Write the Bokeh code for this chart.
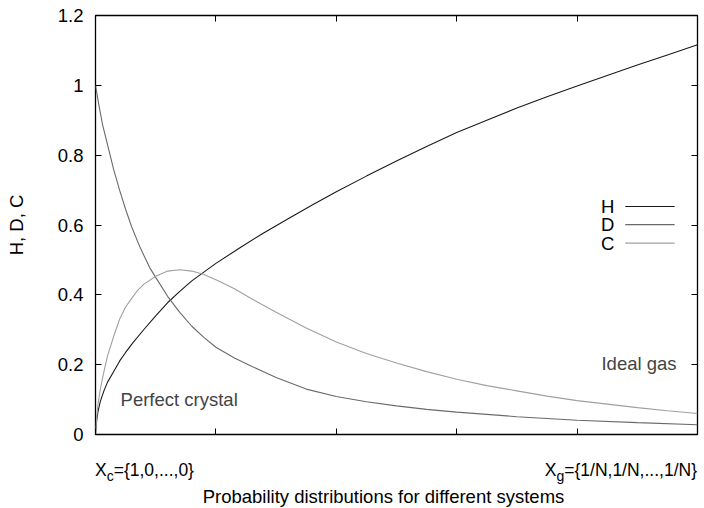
from bokeh.plotting import figure
from bokeh.models import (LinearAxis, FixedTicker, NumeralTickFormatter, Label, Range1d, Div)
from bokeh.layouts import column
from bokeh.embed import file_html
from bokeh.resources import INLINE

# ---------------- data ----------------
h_x = [0, 0.01, 0.02, 0.04, 0.07, 0.1, 0.15, 0.2, 0.25, 0.3, 0.4, 0.5, 0.6, 0.7, 0.8, 0.9,
       1.0, 1.2, 1.4, 1.6, 1.8, 2.0, 2.25, 2.5, 2.75, 3.0, 3.25, 3.5, 3.75, 4.0, 4.25,
       4.5, 4.75, 5.0]
h_y = [0, 0.04, 0.065, 0.095, 0.125, 0.15, 0.18, 0.21, 0.235, 0.258, 0.30, 0.34, 0.378,
       0.41, 0.44, 0.465, 0.49, 0.535, 0.578, 0.618, 0.657, 0.695, 0.74, 0.783, 0.825,
       0.865, 0.90, 0.935, 0.967, 0.998, 1.028, 1.058, 1.087, 1.116]

d_x = [0, 0.03, 0.06, 0.1, 0.15, 0.2, 0.25, 0.3, 0.37, 0.45, 0.5, 0.6, 0.7, 0.8, 0.9,
       1.0, 1.15, 1.3, 1.5, 1.75, 2.0, 2.25, 2.5, 2.75, 3.0, 3.5, 4.0, 4.5, 5.0]
d_y = [1.0, 0.94, 0.885, 0.83, 0.76, 0.70, 0.645, 0.595, 0.536, 0.478, 0.45, 0.395,
       0.35, 0.31, 0.278, 0.25, 0.22, 0.195, 0.163, 0.13, 0.109, 0.094, 0.082, 0.072,
       0.064, 0.051, 0.041, 0.034, 0.028]

c_x = [0, 0.01, 0.02, 0.04, 0.07, 0.1, 0.15, 0.2, 0.25, 0.3, 0.35, 0.4, 0.5, 0.6, 0.7,
       0.8, 0.9, 1.0, 1.15, 1.3, 1.5, 1.75, 2.0, 2.25, 2.5, 2.75, 3.0, 3.25, 3.5, 3.75,
       4.0, 4.25, 4.5, 4.75, 5.0]
c_y = [0, 0.05, 0.085, 0.13, 0.18, 0.225, 0.28, 0.33, 0.365, 0.39, 0.413, 0.43, 0.453,
       0.468, 0.472, 0.468, 0.458, 0.443, 0.418, 0.388, 0.35, 0.305, 0.265, 0.232, 0.205,
       0.18, 0.158, 0.14, 0.125, 0.11, 0.097, 0.087, 0.077, 0.068, 0.06]

y_ticks = [0, 0.2, 0.4, 0.6, 0.8, 1.0, 1.2]
x_ticks = [0, 1, 2, 3, 4, 5]
series_names = ["H", "D", "C"]
series_colors = ["#1a1a1a", "#6a6a6a", "#a0a0a0"]
x_end_labels = [("X", "c", "={1,0,...,0}"), ("X", "g", "={1/N,1/N,...,1/N}")]
x_title = "Probability distributions for different systems"

FONT = "Liberation Sans"
FS = "18.5px"

p = figure(frame_width=602, frame_height=419,
           x_range=Range1d(0, 5), y_range=Range1d(0, 1.2),
           output_backend="svg", toolbar_location=None,
           min_border_left=95, min_border_top=15, min_border_right=7, min_border_bottom=10,
           y_axis_label="H, D, C")
p.grid.visible = False
p.outline_line_color = "black"
p.outline_line_width = 1.3
p.background_fill_color = "white"
p.border_fill_color = "white"

def style_axis(ax, ticks, show_labels):
    ax.ticker = FixedTicker(ticks=ticks)
    ax.axis_line_color = None
    ax.major_tick_in = 6
    ax.major_tick_out = 0
    ax.minor_tick_line_color = None
    ax.major_tick_line_color = "black"
    ax.major_tick_line_width = 1
    ax.major_label_text_font = FONT
    ax.major_label_text_color = "black"
    ax.major_label_text_font_size = FS
    ax.axis_label_text_font = FONT
    ax.axis_label_text_font_style = "normal"
    ax.axis_label_text_font_size = FS
    ax.axis_label_text_color = "black"
    if not show_labels:
        ax.major_label_overrides = {t: "" for t in ticks}
        ax.major_label_standoff = 0

# left axis
ya = p.yaxis[0]
style_axis(ya, y_ticks, True)
ya.formatter = NumeralTickFormatter(format="0.[0]")
ya.major_label_standoff = 12
ya.axis_label_standoff = 28

# bottom axis (ticks only)
xa = p.xaxis[0]
style_axis(xa, x_ticks, False)

# mirrored axes
ra = LinearAxis()
style_axis(ra, y_ticks, False)
p.add_layout(ra, "right")
ta = LinearAxis()
style_axis(ta, x_ticks, False)
p.add_layout(ta, "above")

# curves
for xs, ys, col in [(h_x, h_y, series_colors[0]), (d_x, d_y, series_colors[1]),
                    (c_x, c_y, series_colors[2])]:
    p.line(xs, ys, line_color=col, line_width=1.1)

# legend (label left of sample line, gnuplot style)
leg_y = [0.653, 0.601, 0.548]
for name, col, ly in zip(series_names, series_colors, leg_y):
    p.segment(x0=[4.40], y0=[ly], x1=[4.81], y1=[ly], line_color=col, line_width=1.1)
    p.add_layout(Label(x=4.31, y=ly, text=name, text_align="right", text_baseline="middle",
                       text_font=FONT, text_font_size=FS, text_color="black"))

# annotations
p.add_layout(Label(x=0.208, y=0.10, text="Perfect crystal", text_align="left",
                   text_baseline="alphabetic", text_font=FONT, text_font_size=FS))
p.add_layout(Label(x=4.826, y=0.202, text="Ideal gas", text_align="right",
                   text_baseline="alphabetic", text_font=FONT, text_font_size=FS))

# text below the frame (x-end labels with subscripts and the axis title)
def sub_label(parts):
    main, sub, rest = parts
    return (f'{main}<span style="font-size:14px;position:relative;top:5px">{sub}</span>'
            f'{rest}')

base = f"font-family:'{FONT}';color:black;line-height:1;position:absolute;white-space:nowrap;"
html = (
    f'<div style="position:relative;width:704px;height:64px;">'
    f'<span style="{base}font-size:17.5px;left:90px;top:12.5px;">{sub_label(x_end_labels[0])}</span>'
    f'<span style="{base}font-size:17.5px;right:12px;top:12.5px;">{sub_label(x_end_labels[1])}</span>'
    f'<span style="{base}font-size:18.5px;left:0;width:757px;text-align:center;top:39px;">{x_title}</span>'
    f'</div>'
)
div = Div(text=html, width=704, height=64)

layout = column(p, div, spacing=0)
open("out.html", "w").write(file_html(layout, INLINE))
